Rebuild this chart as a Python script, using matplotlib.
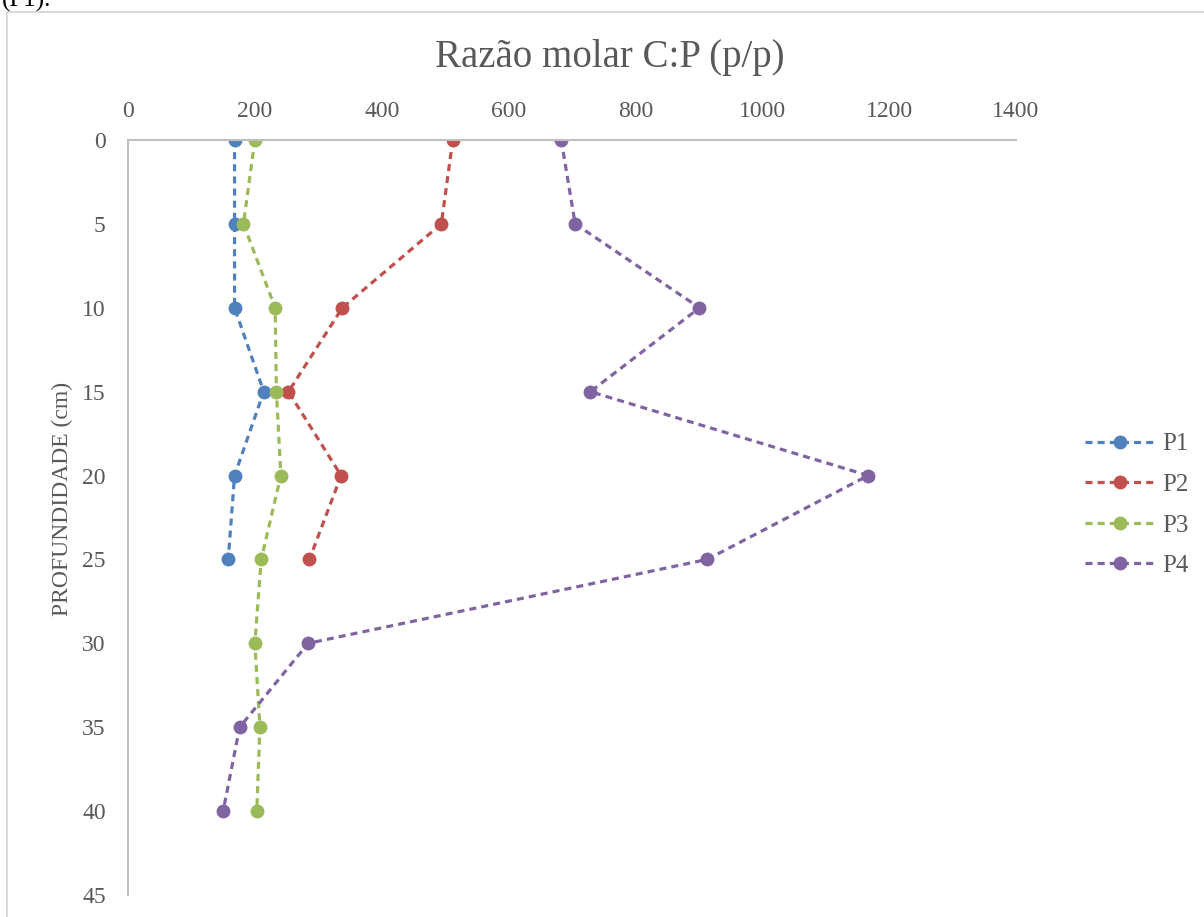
import matplotlib
matplotlib.use("Agg")
import matplotlib.pyplot as plt
from matplotlib.patches import Rectangle

depth = [0, 5, 10, 15, 20, 25, 30, 35, 40]
p1 = [168, 168, 168, 214, 168, 158]
p2 = [512, 494, 338, 253, 336, 286]
p3 = [200, 182, 232, 234, 241, 210, 200, 208, 203]
p4 = [683, 705, 901, 729, 1167, 913, 284, 176, 150]
series_names = ["P1", "P2", "P3", "P4"]
colors = ["#4F81BD", "#C0504D", "#9BBB59", "#8064A2"]
xticks = [0, 200, 400, 600, 800, 1000, 1200, 1400]
yticks = [0, 5, 10, 15, 20, 25, 30, 35, 40, 45]

plt.rcParams['font.family'] = ['Liberation Serif', 'DejaVu Serif']

W, H = 1204, 917
fig = plt.figure(figsize=(W / 100, H / 100), dpi=100)

# outer chart frame
fig.patches.append(Rectangle((7 / W, -0.1), 2.0, 1 - 12 / H + 0.1,
                             transform=fig.transFigure, fill=False,
                             edgecolor="#D9D9D9", linewidth=1.5))
fig.text(2 / W, 1 - 7 / H, "(P1).", fontsize=18, va='baseline', color='black')

ax = fig.add_axes([128 / W, 1 - 895 / H, 888 / W, 755 / H])
for name, vals, c in zip(series_names, [p1, p2, p3, p4], colors):
    ax.plot(vals, depth[:len(vals)], color=c, linewidth=2.3, linestyle=(0, (2.2, 1.6)),
            marker='o', markersize=10, markeredgewidth=0, label=name)

ax.set_xlim(0, 1400)
ax.set_ylim(45, 0)
ax.set_xticks(xticks)
ax.set_yticks(yticks)
ax.xaxis.tick_top()
ax.tick_params(axis='both', length=0, labelsize=17, colors='#595959')
ax.tick_params(axis='x', pad=13)
ax.tick_params(axis='y', pad=16)
for s in ['right', 'bottom']:
    ax.spines[s].set_visible(False)
for s in ['left', 'top']:
    ax.spines[s].set_color('#BFBFBF')
    ax.spines[s].set_linewidth(1.5)

ax.set_ylabel("PROFUNDIDADE (cm)", fontsize=17, color='#595959')
ax.yaxis.set_label_coords(-0.062, 0.525)
fig.text(610 / W, 1 - 57 / H, "Razão molar C:P (p/p)", fontsize=28,
         color='#595959', ha='center', va='center')

leg = ax.legend(loc='center left', bbox_to_anchor=(1062 / W, 1 - 505 / H),
                bbox_transform=fig.transFigure, frameon=False, fontsize=18,
                labelspacing=0.72, handlelength=2.8, handletextpad=0.3)
for t in leg.get_texts():
    t.set_color('#595959')

fig.savefig("out.png", dpi=100)
